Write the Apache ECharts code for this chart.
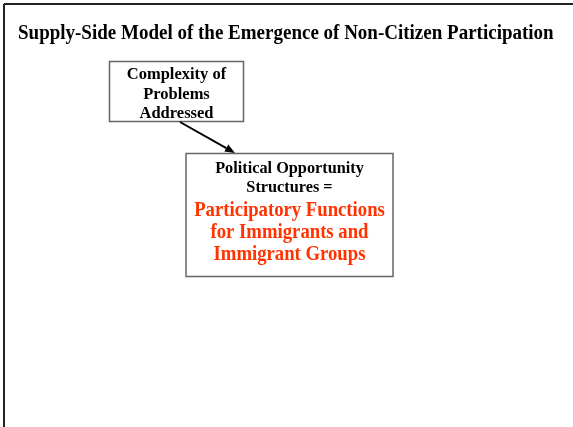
<!DOCTYPE html>
<html>
<head>
<meta charset="utf-8">
<script src="https://cdn.jsdelivr.net/npm/echarts@6/dist/echarts.min.js"></script>
<style>
html,body{margin:0;padding:0;background:#fff;}
#c{width:573px;height:427px;}
</style>
</head>
<body>
<div id="c"></div>
<script>
const titleText = 'Supply-Side Model of the Emergence of Non-Citizen Participation';
const box1Lines = ['Complexity of', 'Problems', 'Addressed'];
const box2BlackLines = ['Political Opportunity', 'Structures ='];
const box2RedLines = ['Participatory Functions', 'for Immigrants and', 'Immigrant Groups'];

const FONT = '"Liberation Serif", "Times New Roman", serif';
const chart = echarts.init(document.getElementById('c'), null, {renderer: 'canvas'});

function txt(t, x, y, size, sx, color, align) {
  return {type: 'text', x: x, y: y, scaleX: sx, style: {text: t, font: 'bold ' + size + 'px ' + FONT, fill: color, textAlign: align || 'center', textVerticalAlign: 'middle'}};
}

const elements = [];
// frame
elements.push({type: 'line', shape: {x1: 4, y1: 4, x2: 573, y2: 4}, style: {stroke: '#222', lineWidth: 2}});
elements.push({type: 'line', shape: {x1: 4, y1: 4, x2: 4, y2: 427}, style: {stroke: '#222', lineWidth: 2}});
// title
elements.push(txt(titleText, 18, 34, 20, 0.95, '#000', 'left'));
// box1
elements.push({type: 'rect', shape: {x: 109.5, y: 61.5, width: 134, height: 60}, style: {fill: '#fff', stroke: '#666', lineWidth: 1.5}});
const b1y = [75, 94.5, 113.5];
box1Lines.forEach((t, i) => elements.push(txt(t, 176.5, b1y[i], 17, 0.97, '#000')));
// box2
elements.push({type: 'rect', shape: {x: 186, y: 153.5, width: 207, height: 123}, style: {fill: '#fff', stroke: '#666', lineWidth: 1.5}});
const b2y = [168.5, 187];
box2BlackLines.forEach((t, i) => elements.push(txt(t, 289.5, b2y[i], 17.5, 0.93, '#000')));
const b2ry = [210.5, 232, 254];
box2RedLines.forEach((t, i) => elements.push(txt(t, 289.5, b2ry[i], 21.5, 0.87, '#ff3300')));
// arrow
const ax1 = 180, ay1 = 122, ax2 = 235, ay2 = 153;
const ang = Math.atan2(ay2 - ay1, ax2 - ax1);
const hl = 10, hw = 4;
const bx = ax2 - hl * Math.cos(ang), by = ay2 - hl * Math.sin(ang);
elements.push({type: 'line', shape: {x1: ax1, y1: ay1, x2: bx, y2: by}, style: {stroke: '#000', lineWidth: 2}});
elements.push({type: 'polygon', shape: {points: [[ax2, ay2], [bx + hw * Math.sin(ang), by - hw * Math.cos(ang)], [bx - hw * Math.sin(ang), by + hw * Math.cos(ang)]]}, style: {fill: '#000'}});

chart.setOption({
  backgroundColor: '#fff',
  animation: false,
  graphic: {elements: elements}
});
</script>
</body>
</html>
